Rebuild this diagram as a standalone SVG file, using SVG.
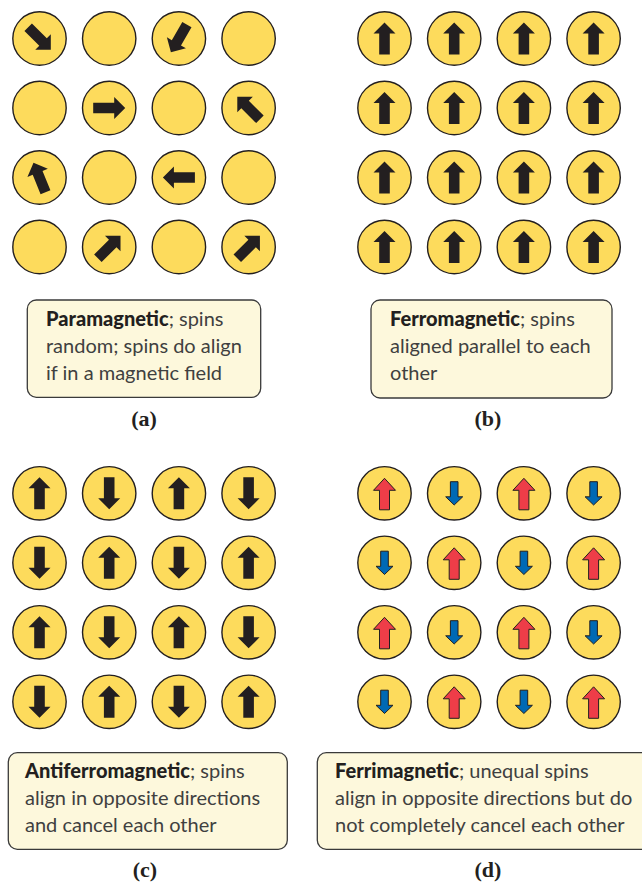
<svg xmlns="http://www.w3.org/2000/svg" xmlns:xlink="http://www.w3.org/1999/xlink" width="642" height="885" viewBox="0 0 642 885">
<style>
.spin{fill:#FDDB5C;stroke:#231F20;stroke-width:1.4}
.box{fill:#FDF8DC;stroke:#3a3a3a;stroke-width:1.3}
.txt{font-family:Lato,"Open Sans","DejaVu Sans",sans-serif;font-size:20px;font-weight:400;fill:#404040}
.b{font-weight:900;fill:#231F20}
.lab{font-family:"Liberation Serif","DejaVu Serif",serif;font-size:22px;font-weight:700;fill:#231F20;text-anchor:middle}
</style>
<defs>
<path id="up" d="M0,-16 L11,-5 L5.3,-5 L5.3,16 L-5.3,16 L-5.3,-5 L-11,-5 Z" fill="#231F20"/>
<path id="red" d="M0,-15 L11,-3 L5,-3 L5,16.5 L-5,16.5 L-5,-3 L-11,-3 Z" fill="#EE3D48" stroke="#231F20" stroke-width="1"/>
<path id="blue" d="M0,11.7 L8.5,3.5 L3.8,3.5 L3.8,-11.6 L-3.8,-11.6 L-3.8,3.5 L-8.5,3.5 Z" fill="#0069B4" stroke="#231F20" stroke-width="1"/>
</defs>
<g id="connectors"/>
<!-- (a) paramagnetic -->
<g id="a-r1c1" transform="translate(39.5,38.5)"><circle class="spin" r="26.7"/><use href="#up" transform="rotate(135)"/></g>
<g id="a-r1c2" transform="translate(109.2,38.5)"><circle class="spin" r="26.7"/></g>
<g id="a-r1c3" transform="translate(178.9,38.5)"><circle class="spin" r="26.7"/><use href="#up" transform="rotate(210)"/></g>
<g id="a-r1c4" transform="translate(248.6,38.5)"><circle class="spin" r="26.7"/></g>
<g id="a-r2c1" transform="translate(39.5,108)"><circle class="spin" r="26.7"/></g>
<g id="a-r2c2" transform="translate(109.2,108)"><circle class="spin" r="26.7"/><use href="#up" transform="rotate(90)"/></g>
<g id="a-r2c3" transform="translate(178.9,108)"><circle class="spin" r="26.7"/></g>
<g id="a-r2c4" transform="translate(248.6,108)"><circle class="spin" r="26.7"/><use href="#up" transform="rotate(-45)"/></g>
<g id="a-r3c1" transform="translate(39.5,177.5)"><circle class="spin" r="26.7"/><use href="#up" transform="rotate(-22)"/></g>
<g id="a-r3c2" transform="translate(109.2,177.5)"><circle class="spin" r="26.7"/></g>
<g id="a-r3c3" transform="translate(178.9,177.5)"><circle class="spin" r="26.7"/><use href="#up" transform="rotate(-90)"/></g>
<g id="a-r3c4" transform="translate(248.6,177.5)"><circle class="spin" r="26.7"/></g>
<g id="a-r4c1" transform="translate(39.5,247)"><circle class="spin" r="26.7"/></g>
<g id="a-r4c2" transform="translate(109.2,247)"><circle class="spin" r="26.7"/><use href="#up" transform="rotate(45)"/></g>
<g id="a-r4c3" transform="translate(178.9,247)"><circle class="spin" r="26.7"/></g>
<g id="a-r4c4" transform="translate(248.6,247)"><circle class="spin" r="26.7"/><use href="#up" transform="rotate(45)"/></g>
<!-- (b) ferromagnetic -->
<g id="b-r1c1" transform="translate(384.5,38.5)"><circle class="spin" r="26.7"/><use href="#up"/></g>
<g id="b-r1c2" transform="translate(454.2,38.5)"><circle class="spin" r="26.7"/><use href="#up"/></g>
<g id="b-r1c3" transform="translate(523.9,38.5)"><circle class="spin" r="26.7"/><use href="#up"/></g>
<g id="b-r1c4" transform="translate(593.6,38.5)"><circle class="spin" r="26.7"/><use href="#up"/></g>
<g id="b-r2c1" transform="translate(384.5,108)"><circle class="spin" r="26.7"/><use href="#up"/></g>
<g id="b-r2c2" transform="translate(454.2,108)"><circle class="spin" r="26.7"/><use href="#up"/></g>
<g id="b-r2c3" transform="translate(523.9,108)"><circle class="spin" r="26.7"/><use href="#up"/></g>
<g id="b-r2c4" transform="translate(593.6,108)"><circle class="spin" r="26.7"/><use href="#up"/></g>
<g id="b-r3c1" transform="translate(384.5,177.5)"><circle class="spin" r="26.7"/><use href="#up"/></g>
<g id="b-r3c2" transform="translate(454.2,177.5)"><circle class="spin" r="26.7"/><use href="#up"/></g>
<g id="b-r3c3" transform="translate(523.9,177.5)"><circle class="spin" r="26.7"/><use href="#up"/></g>
<g id="b-r3c4" transform="translate(593.6,177.5)"><circle class="spin" r="26.7"/><use href="#up"/></g>
<g id="b-r4c1" transform="translate(384.5,247)"><circle class="spin" r="26.7"/><use href="#up"/></g>
<g id="b-r4c2" transform="translate(454.2,247)"><circle class="spin" r="26.7"/><use href="#up"/></g>
<g id="b-r4c3" transform="translate(523.9,247)"><circle class="spin" r="26.7"/><use href="#up"/></g>
<g id="b-r4c4" transform="translate(593.6,247)"><circle class="spin" r="26.7"/><use href="#up"/></g>
<!-- (c) antiferromagnetic -->
<g id="c-r1c1" transform="translate(39.5,493.3)"><circle class="spin" r="26.7"/><use href="#up"/></g>
<g id="c-r1c2" transform="translate(109.2,493.3)"><circle class="spin" r="26.7"/><use href="#up" transform="rotate(180)"/></g>
<g id="c-r1c3" transform="translate(178.9,493.3)"><circle class="spin" r="26.7"/><use href="#up"/></g>
<g id="c-r1c4" transform="translate(248.6,493.3)"><circle class="spin" r="26.7"/><use href="#up" transform="rotate(180)"/></g>
<g id="c-r2c1" transform="translate(39.5,562.8)"><circle class="spin" r="26.7"/><use href="#up" transform="rotate(180)"/></g>
<g id="c-r2c2" transform="translate(109.2,562.8)"><circle class="spin" r="26.7"/><use href="#up"/></g>
<g id="c-r2c3" transform="translate(178.9,562.8)"><circle class="spin" r="26.7"/><use href="#up" transform="rotate(180)"/></g>
<g id="c-r2c4" transform="translate(248.6,562.8)"><circle class="spin" r="26.7"/><use href="#up"/></g>
<g id="c-r3c1" transform="translate(39.5,632.3)"><circle class="spin" r="26.7"/><use href="#up"/></g>
<g id="c-r3c2" transform="translate(109.2,632.3)"><circle class="spin" r="26.7"/><use href="#up" transform="rotate(180)"/></g>
<g id="c-r3c3" transform="translate(178.9,632.3)"><circle class="spin" r="26.7"/><use href="#up"/></g>
<g id="c-r3c4" transform="translate(248.6,632.3)"><circle class="spin" r="26.7"/><use href="#up" transform="rotate(180)"/></g>
<g id="c-r4c1" transform="translate(39.5,701.8)"><circle class="spin" r="26.7"/><use href="#up" transform="rotate(180)"/></g>
<g id="c-r4c2" transform="translate(109.2,701.8)"><circle class="spin" r="26.7"/><use href="#up"/></g>
<g id="c-r4c3" transform="translate(178.9,701.8)"><circle class="spin" r="26.7"/><use href="#up" transform="rotate(180)"/></g>
<g id="c-r4c4" transform="translate(248.6,701.8)"><circle class="spin" r="26.7"/><use href="#up"/></g>
<!-- (d) ferrimagnetic -->
<g id="d-r1c1" transform="translate(384.5,493.3)"><circle class="spin" r="26.7"/><use href="#red"/></g>
<g id="d-r1c2" transform="translate(454.2,493.3)"><circle class="spin" r="26.7"/><use href="#blue"/></g>
<g id="d-r1c3" transform="translate(523.9,493.3)"><circle class="spin" r="26.7"/><use href="#red"/></g>
<g id="d-r1c4" transform="translate(593.6,493.3)"><circle class="spin" r="26.7"/><use href="#blue"/></g>
<g id="d-r2c1" transform="translate(384.5,562.8)"><circle class="spin" r="26.7"/><use href="#blue"/></g>
<g id="d-r2c2" transform="translate(454.2,562.8)"><circle class="spin" r="26.7"/><use href="#red"/></g>
<g id="d-r2c3" transform="translate(523.9,562.8)"><circle class="spin" r="26.7"/><use href="#blue"/></g>
<g id="d-r2c4" transform="translate(593.6,562.8)"><circle class="spin" r="26.7"/><use href="#red"/></g>
<g id="d-r3c1" transform="translate(384.5,632.3)"><circle class="spin" r="26.7"/><use href="#red"/></g>
<g id="d-r3c2" transform="translate(454.2,632.3)"><circle class="spin" r="26.7"/><use href="#blue"/></g>
<g id="d-r3c3" transform="translate(523.9,632.3)"><circle class="spin" r="26.7"/><use href="#red"/></g>
<g id="d-r3c4" transform="translate(593.6,632.3)"><circle class="spin" r="26.7"/><use href="#blue"/></g>
<g id="d-r4c1" transform="translate(384.5,701.8)"><circle class="spin" r="26.7"/><use href="#blue"/></g>
<g id="d-r4c2" transform="translate(454.2,701.8)"><circle class="spin" r="26.7"/><use href="#red"/></g>
<g id="d-r4c3" transform="translate(523.9,701.8)"><circle class="spin" r="26.7"/><use href="#blue"/></g>
<g id="d-r4c4" transform="translate(593.6,701.8)"><circle class="spin" r="26.7"/><use href="#red"/></g>
<!-- captions -->
<g id="box-a">
<rect class="box" x="27.3" y="300" width="233.4" height="97.3" rx="9"/>
<text class="txt" x="46" y="326"><tspan class="b">Paramagnetic</tspan>; spins</text>
<text class="txt" x="46" y="353">random; spins do align</text>
<text class="txt" x="46" y="380">if in a magnetic field</text>
</g>
<g id="box-b">
<rect class="box" x="371" y="300" width="241" height="98" rx="9"/>
<text class="txt" x="390" y="326"><tspan class="b">Ferromagnetic</tspan>; spins</text>
<text class="txt" x="390" y="353">aligned parallel to each</text>
<text class="txt" x="390" y="380">other</text>
</g>
<g id="box-c">
<rect class="box" x="8.3" y="752.7" width="279" height="96.6" rx="9"/>
<text class="txt" x="25" y="778"><tspan class="b">Antiferromagnetic</tspan>; spins</text>
<text class="txt" x="25" y="805">align in opposite directions</text>
<text class="txt" x="25" y="832">and cancel each other</text>
</g>
<g id="box-d">
<rect class="box" x="317.3" y="752.7" width="340" height="96.6" rx="9"/>
<text class="txt" x="335" y="778"><tspan class="b">Ferrimagnetic</tspan>; unequal spins</text>
<text class="txt" x="335" y="805">align in opposite directions but do</text>
<text class="txt" x="335" y="832">not completely cancel each other</text>
</g>
<g id="labels">
<text class="lab" x="144" y="426">(a)</text>
<text class="lab" x="488" y="426">(b)</text>
<text class="lab" x="145" y="877">(c)</text>
<text class="lab" x="488" y="877">(d)</text>
</g>
</svg>
